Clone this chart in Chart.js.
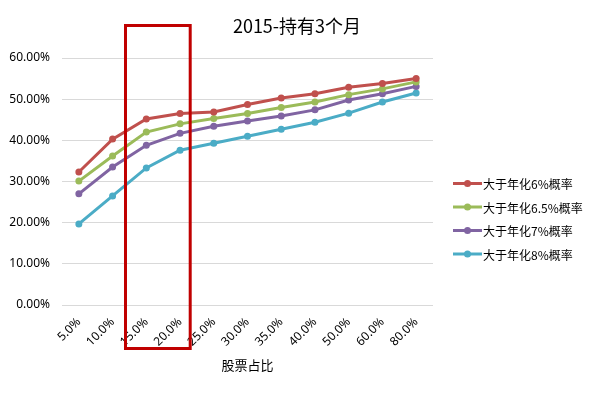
<!DOCTYPE html>
<html>
<head>
<meta charset="utf-8">
<script src="https://cdn.jsdelivr.net/npm/chart.js@4.4.0/dist/chart.umd.min.js"></script>
<style>
  html, body { margin: 0; padding: 0; background: #fff; }
  #wrap { width: 596px; height: 393px; }
</style>
</head>
<body>
<div id="wrap"><canvas id="chart"></canvas></div>
<script>
// chart data (percent)
const categories = ['5.0%', '10.0%', '15.0%', '20.0%', '25.0%', '30.0%', '35.0%', '40.0%', '50.0%', '60.0%', '80.0%'];
const over6 = [32.3, 40.3, 45.2, 46.5, 46.9, 48.7, 50.3, 51.3, 52.9, 53.8, 55.0];
const over65 = [30.1, 36.2, 42.0, 44.0, 45.3, 46.5, 48.0, 49.3, 51.1, 52.5, 54.2];
const over7 = [27.0, 33.5, 38.8, 41.7, 43.4, 44.7, 45.9, 47.4, 49.8, 51.3, 53.1];
const over8 = [19.7, 26.5, 33.3, 37.6, 39.3, 41.0, 42.7, 44.4, 46.6, 49.3, 51.5];
const seriesNames = ['大于年化6%概率', '大于年化6.5%概率', '大于年化7%概率', '大于年化8%概率'];
const colors = ['#C0504D', '#9BBB59', '#8064A2', '#4BACC6'];

const FONT = "'Noto Sans', 'Noto Sans CJK SC', sans-serif";
const CJK = "'Noto Sans CJK SC', 'Noto Sans', sans-serif";

function makeSet(label, data, color) {
    return {
        label: label,
        data: data,
        borderColor: color,
        backgroundColor: color,
        borderWidth: 3,
        pointRadius: 3.5,
        pointHoverRadius: 3.5,
        pointBorderWidth: 0,
        tension: 0
    };
}

// title, legend and the hand-drawn red box
const extras = {
    id: 'extras',
    afterDraw(chart) {
        const ctx = chart.ctx;
        ctx.save();
        ctx.fillStyle = '#000';
        ctx.font = '18px ' + CJK;
        ctx.textAlign = 'center';
        ctx.textBaseline = 'middle';
        ctx.fillText('2015-持有3个月', 297, 26);

        ctx.font = '12px ' + CJK;
        ctx.textAlign = 'left';
        chart.data.datasets.forEach(function (ds, i) {
            const y = 183.5 + i * 23.5;
            ctx.strokeStyle = ds.borderColor;
            ctx.lineWidth = 3;
            ctx.beginPath();
            ctx.moveTo(453, y);
            ctx.lineTo(482, y);
            ctx.stroke();
            ctx.fillStyle = ds.borderColor;
            ctx.beginPath();
            ctx.arc(467.5, y, 3.5, 0, Math.PI * 2);
            ctx.fill();
            ctx.fillStyle = '#000';
            ctx.fillText(ds.label, 483, y + 1);
        });

        ctx.strokeStyle = '#C00000';
        ctx.lineWidth = 3;
        ctx.strokeRect(125.5, 25.5, 64.7, 323);
        ctx.restore();
    }
};

const ctx = document.getElementById('chart').getContext('2d');
new Chart(ctx, {
    type: 'line',
    data: {
        labels: categories,
        datasets: [
            makeSet(seriesNames[0], over6, colors[0]),
            makeSet(seriesNames[1], over65, colors[1]),
            makeSet(seriesNames[2], over7, colors[2]),
            makeSet(seriesNames[3], over8, colors[3])
        ]
    },
    options: {
        responsive: true,
        maintainAspectRatio: false,
        animation: false,
        layout: { padding: { top: 58, right: 163, bottom: 16, left: 0 } },
        plugins: {
            legend: { display: false },
            title: { display: false },
            tooltip: { enabled: false }
        },
        scales: {
            x: {
                offset: true,
                grid: { display: false },
                border: { display: false },
                ticks: {
                    color: '#000',
                    font: { family: FONT, size: 12 },
                    maxRotation: 45,
                    minRotation: 45,
                    padding: 2,
                    autoSkip: false
                },
                title: {
                    display: true,
                    text: '股票占比',
                    color: '#000',
                    font: { family: CJK, size: 13 },
                    padding: { top: 0, bottom: 4 }
                },
                afterFit(scale) { scale.height = 72; }
            },
            y: {
                min: 0,
                max: 60,
                grid: { color: '#D9D9D9', lineWidth: 1, drawTicks: false },
                border: { display: false },
                ticks: {
                    stepSize: 10,
                    color: '#000',
                    padding: 12,
                    font: { family: FONT, size: 12 },
                    callback: function (v) { return v.toFixed(2) + '%'; }
                },
                afterFit(scale) { scale.width = 62; }
            }
        }
    },
    plugins: [extras]
});
</script>
</body>
</html>
